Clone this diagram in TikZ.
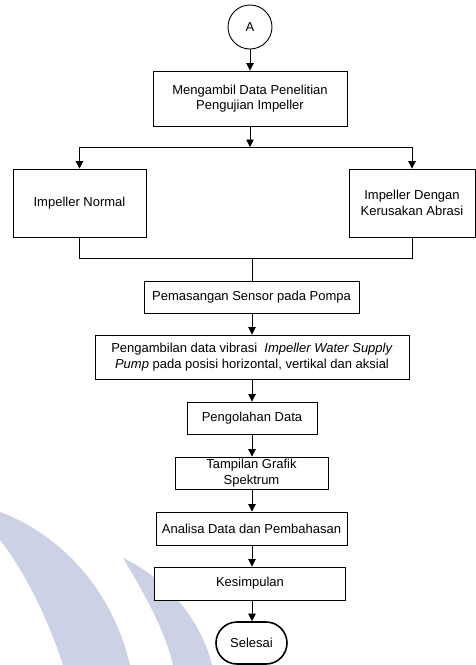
\documentclass[tikz,border=0pt]{standalone}
\usepackage{fontspec}
\setmainfont{Liberation Sans}
\usetikzlibrary{arrows.meta}
\definecolor{wm}{RGB}{205,209,230}
\begin{document}
\begin{tikzpicture}[x=1pt,y=-1pt,
  box/.style={draw=black, fill=white, line width=0.9pt, align=center, inner sep=0pt, font=\fontsize{13}{15.5}\selectfont},
  arr/.style={line width=0.9pt, -{Triangle[width=7.5pt,length=7.5pt]}},
  ln/.style={line width=0.9pt}]
\fill[white] (0,0) rectangle (476,665);
\useasboundingbox (0,0) rectangle (476,665);
% watermark
\fill[wm] (0,512) .. controls (50,530) and (110,580) .. (130,665) -- (63,665) .. controls (45,610) and (20,565) .. (0,540) -- cycle;
\fill[wm] (123,558) .. controls (160,575) and (200,615) .. (212,665) -- (173,665) .. controls (165,630) and (145,595) .. (123,558) -- cycle;
% nodes
\node[box, circle, minimum size=44pt] (A) at (250,27) {A};
\node[box, minimum width=194pt, minimum height=55pt] (b1) at (250,98.5) {Mengambil Data Penelitian\\Pengujian Impeller};
\node[box, minimum width=133pt, minimum height=68pt] (nl) at (79.5,203) {Impeller Normal};
\node[box, minimum width=126pt, minimum height=68pt] (nr) at (412,203) {Impeller Dengan\\Kerusakan Abrasi};
\node[box, minimum width=215pt, minimum height=32pt] (b2) at (251.5,297) {Pemasangan Sensor pada Pompa};
\node[box, minimum width=314pt, minimum height=44pt] (b3) at (252,357) {Pengambilan data vibrasi \ \textit{Impeller Water Supply}\\\textit{Pump} pada posisi horizontal, vertikal dan aksial};
\node[box, minimum width=130pt, minimum height=32pt] (b4) at (252,418) {Pengolahan Data};
\node[box, minimum width=153pt, minimum height=32pt] (b5) at (251.5,473) {Tampilan Grafik\\Spektrum};
\node[box, minimum width=191pt, minimum height=33pt] (b6) at (251.5,528.5) {Analisa Data dan Pembahasan};
\node[box, minimum width=191pt, minimum height=33pt] (b7) at (250,583.5) {Kesimpulan};
\node[box, rounded corners=21pt, minimum width=71pt, minimum height=42pt, line width=1.6pt] (end) at (251.5,643) {Selesai};
% connectors
\coordinate (s) at (250,147);
\coordinate (m) at (252,258);
\draw[arr] (A) -- (b1);
\draw[arr] (b1.south) -- (s);
\draw[arr] (s) -| (nl.north);
\draw[arr] (s) -| (nr.north);
\draw[ln] (nl.south) |- (m);
\draw[ln] (nr.south) |- (m);
\draw[ln] (m) -- (m |- b2.north);
\draw[arr] (b2.south -| m) -- (m |- b3.north);
\draw[arr] (b3.south -| m) -- (m |- b4.north);
\draw[arr] (b4.south -| m) -- (m |- b5.north);
\draw[arr] (b5.south -| m) -- (m |- b6.north);
\draw[arr] (b6.south -| m) -- (m |- b7.north);
\draw[arr] (b7.south -| m) -- (m |- end.north);
\end{tikzpicture}
\end{document}
